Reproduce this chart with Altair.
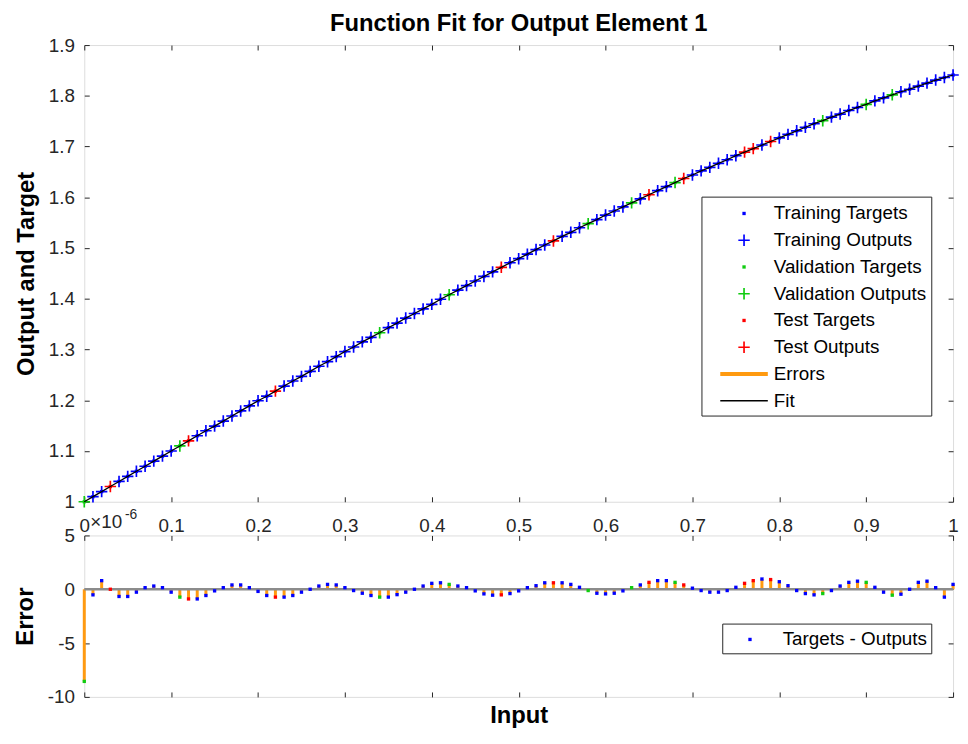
import pandas as pd
import altair as alt

FONT = "Liberation Sans"
INK = "#262626"
BLUE, GREEN, RED, ORANGE = "#0000FF", "#10CC10", "#FF0000", "#FF9A10"

# input grid (0 to 1 in steps of 0.01) and the network outputs
inputs = [i / 100 for i in range(101)]
outputs = [1.000, 1.010, 1.020, 1.030, 1.040, 1.050, 1.060, 1.070, 1.080, 1.090,
           1.100, 1.110, 1.120, 1.130, 1.140, 1.149, 1.159, 1.169, 1.179, 1.189,
           1.199, 1.208, 1.218, 1.228, 1.238, 1.247, 1.257, 1.267, 1.276, 1.286,
           1.296, 1.305, 1.315, 1.324, 1.333, 1.343, 1.352, 1.362, 1.371, 1.380,
           1.389, 1.399, 1.408, 1.417, 1.426, 1.435, 1.444, 1.453, 1.462, 1.471,
           1.479, 1.488, 1.497, 1.506, 1.514, 1.523, 1.531, 1.540, 1.548, 1.556,
           1.565, 1.573, 1.581, 1.589, 1.597, 1.605, 1.613, 1.621, 1.629, 1.637,
           1.644, 1.652, 1.659, 1.667, 1.674, 1.682, 1.689, 1.696, 1.703, 1.710,
           1.717, 1.724, 1.731, 1.738, 1.745, 1.751, 1.758, 1.764, 1.771, 1.777,
           1.783, 1.790, 1.796, 1.802, 1.808, 1.813, 1.819, 1.825, 1.831, 1.836,
           1.841]

# targets - outputs, in units of 1e-6
errors = [-8.56, -0.52, 0.80, 0.00, -0.67, -0.67, -0.27, 0.15, 0.30, 0.15,
          -0.27, -0.73, -0.90, -0.90, -0.58, -0.15, 0.15, 0.40, 0.40, 0.15,
          -0.20, -0.58, -0.73, -0.73, -0.58, -0.27, 0.00, 0.30, 0.45, 0.40,
          0.15, -0.12, -0.37, -0.58, -0.73, -0.73, -0.50, -0.27, 0.00, 0.30,
          0.55, 0.60, 0.45, 0.30, 0.15, -0.15, -0.43, -0.55, -0.52, -0.40,
          -0.15, 0.15, 0.33, 0.60, 0.60, 0.60, 0.45, 0.18, -0.12, -0.37,
          -0.43, -0.37, -0.15, 0.15, 0.40, 0.64, 0.80, 0.80, 0.64, 0.40,
          0.10, -0.12, -0.27, -0.27, -0.12, 0.18, 0.55, 0.80, 0.95, 0.90,
          0.70, 0.33, -0.12, -0.40, -0.52, -0.40, -0.12, 0.30, 0.64, 0.75,
          0.64, 0.18, -0.27, -0.55, -0.46, 0.00, 0.64, 0.75, 0.15, -0.73,
          0.45]

validation_idx = [0, 11, 34, 42, 58, 63, 68, 85, 90, 93]
test_idx = [3, 12, 22, 48, 54, 65, 69, 76, 77, 79]

series_names = ["Training Targets", "Training Outputs", "Validation Targets",
                "Validation Outputs", "Test Targets", "Test Outputs", "Errors", "Fit"]
series_colors = [BLUE, BLUE, GREEN, GREEN, RED, RED, ORANGE, "black"]

# marker shapes (unit box is 24px wide at size 576)
PLUS = ("M-0.48,-0.07L-0.07,-0.07L-0.07,-0.48L0.07,-0.48L0.07,-0.07L0.48,-0.07"
        "L0.48,0.07L0.07,0.07L0.07,0.48L-0.07,0.48L-0.07,0.07L-0.48,0.07Z")
DOT = "M-0.14,-0.14L0.14,-0.14L0.14,0.14L-0.14,0.14Z"
THICK = "M-2,-0.17L2,-0.17L2,0.17L-2,0.17Z"
THIN = "M-2,-0.06L2,-0.06L2,0.06L-2,0.06Z"
series_shapes = [DOT, PLUS, DOT, PLUS, DOT, PLUS, THICK, THIN]

split = ["Training"] * len(inputs)
for i in validation_idx:
    split[i] = "Validation"
for i in test_idx:
    split[i] = "Test"

fit_df = pd.DataFrame({"input": inputs, "value": outputs, "split": split})
targets_df = fit_df.assign(series=fit_df["split"] + " Targets")
outputs_df = fit_df.assign(series=fit_df["split"] + " Outputs")

err_cat = {"Training": "Targets - Outputs", "Validation": "Validation", "Test": "Test"}
err_df = pd.DataFrame({"input": inputs, "error": errors, "zero": 0.0,
                       "cat": [err_cat[s] for s in split]})

x_ticks = [round(i / 10, 1) for i in range(11)]
y_ticks_top = [round(1 + i / 10, 1) for i in range(10)]
y_ticks_bot = [-10, -5, 0, 5]

x_scale = alt.Scale(domain=[0, 1], nice=False, zero=False)
y_scale_top = alt.Scale(domain=[1, 1.9], nice=False, zero=False)
y_scale_bot = alt.Scale(domain=[-10, 5], nice=False, zero=False)


def axis(orient, values, labels=True, title=None, **kw):
    # inward ticks, MATLAB style: shift the axis inside by the tick length
    return alt.Axis(orient=orient, values=values, labels=labels, title=title,
                    grid=False, domain=False, ticks=True, tickSize=5, offset=-5,
                    tickColor=INK, tickWidth=1, labelFont=FONT, labelFontSize=19,
                    labelColor=INK, labelFlush=False, labelExpr="datum.value + ''",
                    titleFont=FONT, titleFontSize=24, titleFontWeight="bold",
                    titleColor="black", **kw)


top_legend = alt.Legend(title=None, orient="none", legendX=623, legendY=153,
                        symbolSize=576, symbolOffset=26, labelOffset=18,
                        padding=5, rowPadding=5, strokeColor=INK,
                        fillColor="white", labelFont=FONT, labelFontSize=19,
                        labelColor="black", labelLimit=300, symbolStrokeWidth=0)

series_color = alt.Color("series:N", scale=alt.Scale(domain=series_names, range=series_colors),
                         legend=top_legend)
series_shape = alt.Shape("series:N", scale=alt.Scale(domain=series_names, range=series_shapes),
                         legend=top_legend)

targets = alt.Chart(targets_df).mark_point(filled=True, size=576, opacity=1).encode(
    x=alt.X("input:Q", scale=x_scale, axis=None),
    y=alt.Y("value:Q", scale=y_scale_top, axis=None),
    color=series_color, shape=series_shape)

outs = alt.Chart(outputs_df).mark_point(filled=True, size=576, opacity=1).encode(
    x=alt.X("input:Q", scale=x_scale, axis=axis("bottom", x_ticks, labelPadding=15)),
    y=alt.Y("value:Q", scale=y_scale_top,
            axis=axis("left", y_ticks_top, title="Output and Target",
                      labelPadding=10, titlePadding=10)),
    color=series_color, shape=series_shape)

fit_line = alt.Chart(fit_df).mark_line(color="black", strokeWidth=1.3).encode(
    x=alt.X("input:Q", scale=x_scale, axis=axis("top", x_ticks, labels=False)),
    y=alt.Y("value:Q", scale=y_scale_top, axis=axis("right", y_ticks_top, labels=False)))

top = alt.layer(targets, outs, fit_line).resolve_axis(
    x="independent", y="independent"
).properties(
    width=877, height=461,
    title=alt.TitleParams("Function Fit for Output Element 1", font=FONT, fontSize=24,
                          fontWeight="bold", color="black", frame="group", offset=0))

stems = alt.Chart(err_df).mark_rule(color=ORANGE, strokeWidth=3).encode(
    x=alt.X("input:Q", scale=x_scale,
            axis=axis("bottom", x_ticks, labels=False, title="Input", titlePadding=6)),
    y=alt.Y("zero:Q", scale=y_scale_bot,
            axis=axis("left", y_ticks_bot, title="Error", labelPadding=10, titlePadding=10)),
    y2="error:Q")

zero_line = alt.Chart(pd.DataFrame({"zero": [0.0]})).mark_rule(
    color="#8C8C8C", strokeWidth=2.5
).encode(y=alt.Y("zero:Q", scale=y_scale_bot, axis=None))

err_dots = alt.Chart(err_df).mark_point(filled=True, size=576, shape=DOT, opacity=1).encode(
    x=alt.X("input:Q", scale=x_scale, axis=axis("top", x_ticks, labels=False)),
    y=alt.Y("error:Q", scale=y_scale_bot, axis=axis("right", y_ticks_bot, labels=False)),
    color=alt.Color("cat:N",
                    scale=alt.Scale(domain=["Targets - Outputs", "Validation", "Test"],
                                    range=[BLUE, GREEN, RED]),
                    legend=alt.Legend(title=None, values=["Targets - Outputs"],
                                      orient="none", legendX=644, legendY=89,
                                      symbolType=DOT, symbolSize=576, symbolOffset=12,
                                      labelOffset=21, padding=4, strokeColor=INK,
                                      fillColor="white", labelFont=FONT,
                                      labelFontSize=19, labelColor="black",
                                      labelLimit=300, symbolStrokeWidth=0)))

exp_base = alt.Chart(pd.DataFrame({"t": ["\u00d710"]})).mark_text(
    align="left", baseline="middle", font=FONT, fontSize=19, color=INK
).encode(text="t:N", x=alt.value(6), y=alt.value(-14))

exp_pow = alt.Chart(pd.DataFrame({"t": ["-6"]})).mark_text(
    align="left", baseline="middle", font=FONT, fontSize=14, color=INK
).encode(text="t:N", x=alt.value(41), y=alt.value(-21))

bottom = alt.layer(stems, zero_line, err_dots, exp_base, exp_pow).resolve_axis(
    x="independent", y="independent"
).properties(width=877, height=163)

chart = alt.vconcat(top, bottom, spacing=34, bounds="flush").resolve_scale(
    color="independent", shape="independent"
).properties(
    padding={"left": 5, "top": 0, "right": 0, "bottom": 0}
).configure_view(
    stroke=INK, strokeWidth=1.2
).configure(background="white")

chart.save("out.html", embed_options={"renderer": "svg", "actions": False})
